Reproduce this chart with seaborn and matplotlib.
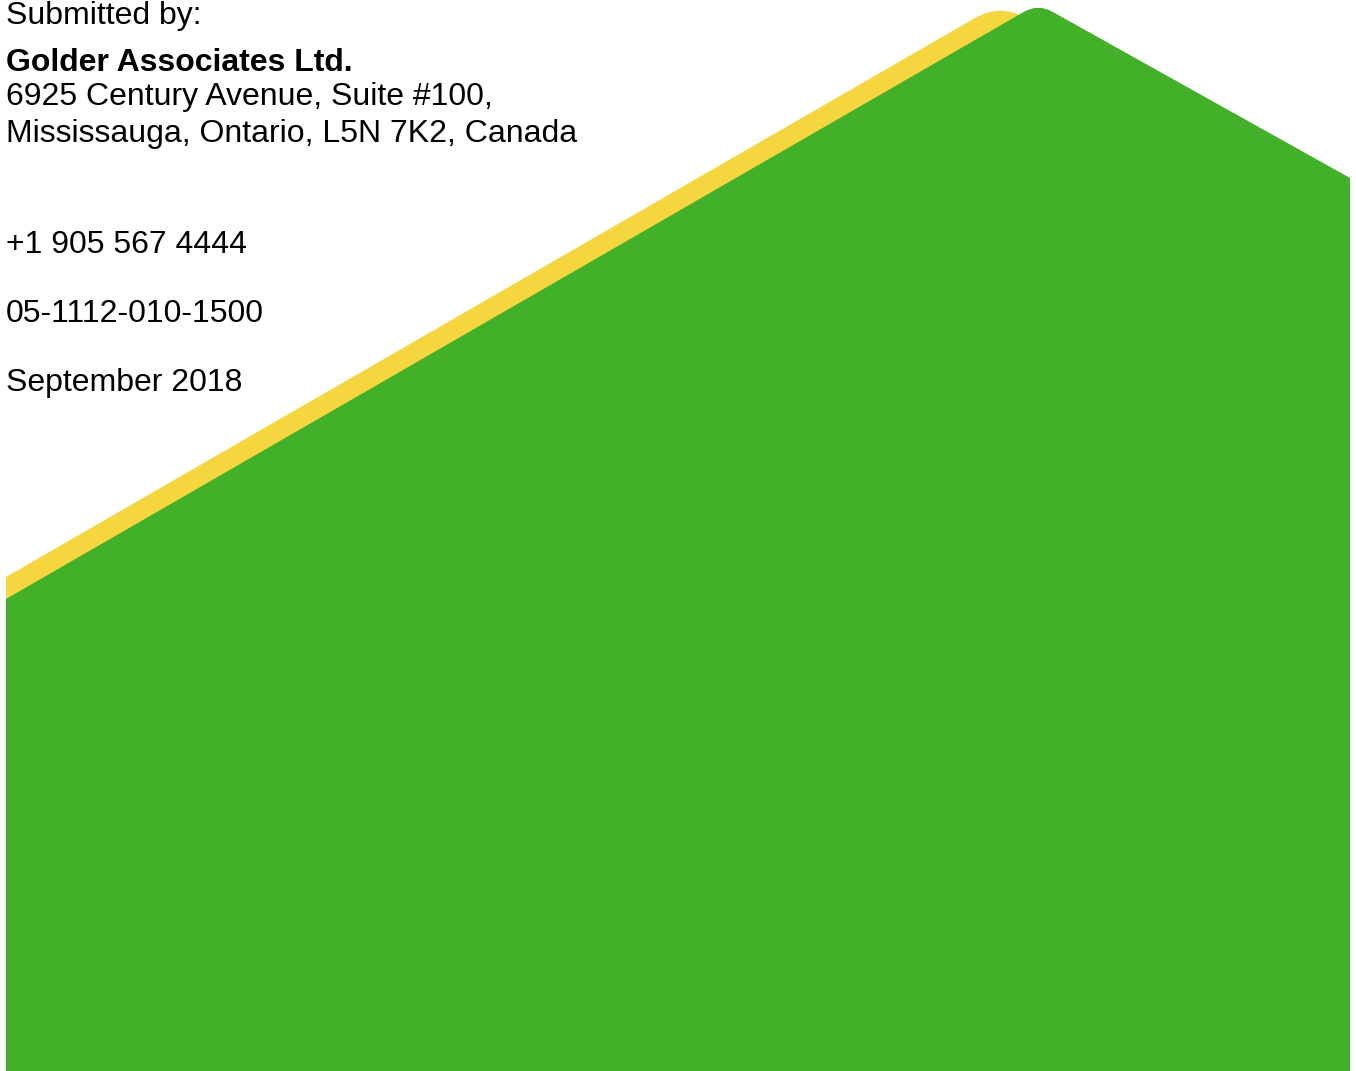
import matplotlib
matplotlib.use("Agg")
import matplotlib.pyplot as plt
import seaborn as sns
from matplotlib.path import Path
from matplotlib.patches import PathPatch

# Page size in pixels (data units = pixels, y runs downward)
page_w = 1356
page_h = 1071

yellow_x = [6, 6, 975, 1000, 1025, 1350, 1350, 6]
yellow_y = [1071, 577, 18, 3.6, 17.6, 199, 1071, 1071]
green_x = [6, 6, 1024, 1038, 1052, 1350, 1350, 6]
green_y = [1071, 599, 11.8, 3.7, 11.5, 178, 1071, 1071]
shape_codes = [Path.MOVETO, Path.LINETO, Path.LINETO, Path.CURVE3, Path.CURVE3,
               Path.LINETO, Path.LINETO, Path.CLOSEPOLY]

# Text block
header_lines = ["Submitted by:"]
company = "Golder Associates Ltd."
address_lines = ["6925 Century Avenue, Suite #100,",
                 "Mississauga, Ontario, L5N 7K2, Canada"]
contact_lines = ["+1 905 567 4444", "05-1112-010-1500", "September 2018"]

header_base = [24]
company_base = 71
address_base = [105, 142]
contact_base = [253, 322, 391]

sns.set_theme(style="white")
plt.rcParams["font.family"] = ["Liberation Sans", "DejaVu Sans"]

fig = plt.figure(figsize=(13.56, 10.71), dpi=100)
ax = fig.add_axes([0, 0, 1, 1])
ax.set_xlim(0, page_w)
ax.set_ylim(page_h, 0)
ax.axis("off")

yellow = PathPatch(Path(list(zip(yellow_x, yellow_y)), shape_codes),
                   facecolor="#F6D63F", edgecolor="none", zorder=1)
green = PathPatch(Path(list(zip(green_x, green_y)), shape_codes),
                  facecolor="#43B02A", edgecolor="none", zorder=2)
ax.add_patch(yellow)
ax.add_patch(green)

fs = 23
for line, yb in zip(header_lines, header_base):
    ax.text(6, yb, line, fontsize=fs, va="baseline", ha="left", color="black", zorder=3)
ax.text(6, company_base, company, fontsize=fs, fontweight="bold", va="baseline",
        ha="left", color="black", zorder=3)
for line, yb in zip(address_lines, address_base):
    ax.text(6, yb, line, fontsize=fs, va="baseline", ha="left", color="black", zorder=3)
for line, yb in zip(contact_lines, contact_base):
    ax.text(6, yb, line, fontsize=fs, va="baseline", ha="left", color="black", zorder=3)

fig.savefig("out.png", dpi=100)
